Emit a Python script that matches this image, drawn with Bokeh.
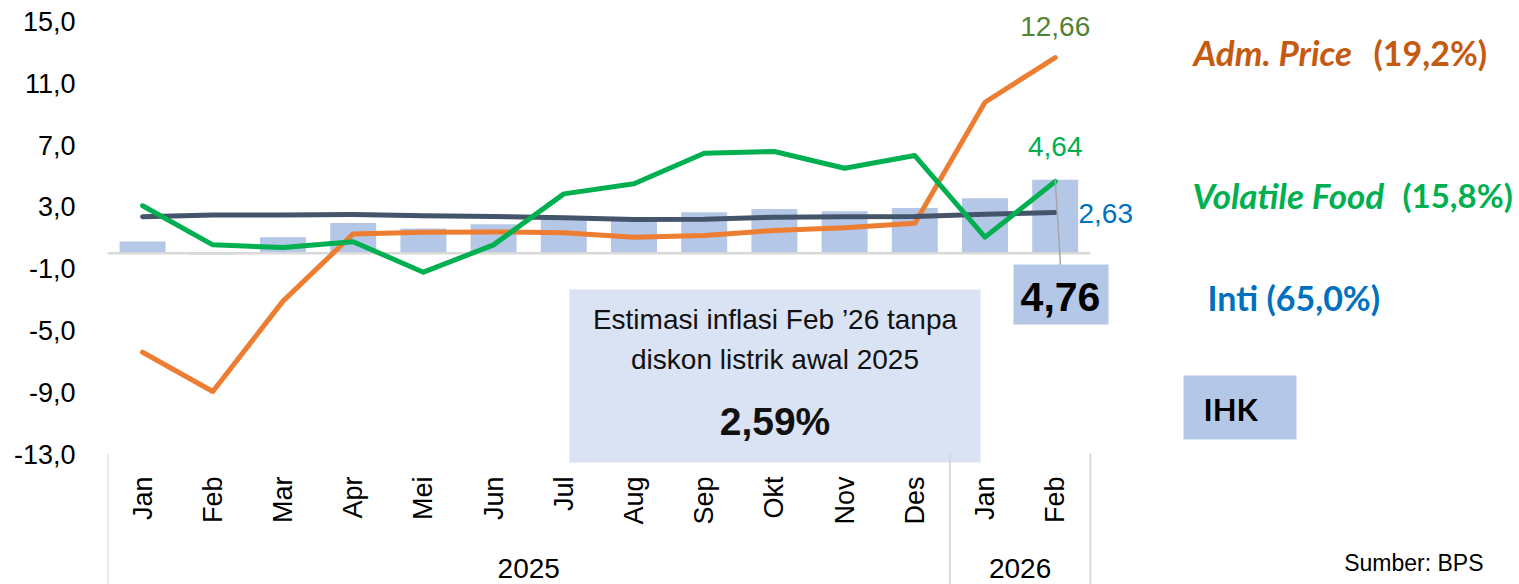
import math
from bokeh.plotting import figure
from bokeh.models import FixedTicker, Range1d
from bokeh.core.properties import value
from bokeh.embed import file_html
from bokeh.resources import INLINE

# ---------------- data ----------------
months = ["Jan", "Feb", "Mar", "Apr", "Mei", "Jun", "Jul", "Aug", "Sep", "Okt", "Nov", "Des", "Jan", "Feb"]
years = ["2025", "2026"]
year_sizes = [12, 2]
ihk = [0.76, -0.09, 1.03, 1.95, 1.60, 1.87, 2.37, 2.31, 2.65, 2.86, 2.72, 2.92, 3.55, 4.76]
inti = [2.36, 2.48, 2.48, 2.50, 2.42, 2.37, 2.30, 2.18, 2.19, 2.33, 2.36, 2.38, 2.52, 2.63]
adm = [-6.41, -8.95, -3.10, 1.25, 1.36, 1.38, 1.32, 1.04, 1.15, 1.47, 1.64, 1.94, 9.77, 12.66]
vf = [3.07, 0.54, 0.37, 0.74, -1.23, 0.54, 3.84, 4.49, 6.47, 6.58, 5.50, 6.32, 1.04, 4.64]
y_ticks = [-13, -9, -5, -1, 3, 7, 11, 15]
legend_names = ["Adm. Price", "Volatile Food", "Inti"]
legend_weights = ["(19,2%)", "(15,8%)", "(65,0%)"]
estimasi_lines = ["Estimasi inflasi Feb \u201926 tanpa", "diskon listrik awal 2025"]
estimasi_value = 2.59
source_note = "Sumber: BPS"

# ---------------- geometry helpers (page px -> data) ----------------
X0, XS = 107.0, 70.2     # page x of category 0 edge, px per category
Y0, YS = 252.7, 15.45    # page y of value 0, px per unit
W, H = 1519, 584
LEFT = 107

def dx(px):
    return (px - X0) / XS

def dy(py):
    return (Y0 - py) / YS

def fmt(v, d=2):
    return f"{v:.{d}f}".replace(".", ",")

xc = [i + 0.5 for i in range(len(months))]

SANS = "Liberation Sans"
CAL = "Lato"
BL = "alphabetic"   # anchor placed at the visual text centre line (empirically)

p = figure(width=W, height=H, output_backend="svg", toolbar_location=None,
           x_range=Range1d(0, dx(W)), y_range=Range1d(dy(H), dy(0)),
           x_axis_location=None, y_axis_location="left",
           min_border_left=LEFT, min_border_right=0, min_border_top=0, min_border_bottom=0)
p.outline_line_color = None
p.xgrid.visible = False
p.ygrid.visible = False
p.background_fill_color = "white"
p.border_fill_color = "white"

ax = p.yaxis[0]
ax.ticker = FixedTicker(ticks=y_ticks)
ax.major_label_overrides = {t: fmt(t, 1) for t in y_ticks}
ax.axis_line_color = None
ax.major_tick_line_color = None
ax.minor_tick_line_color = None
ax.major_tick_out = 0
ax.major_tick_in = 0
ax.major_label_standoff = 32
ax.major_label_text_font = SANS
ax.major_label_text_font_size = "27px"
ax.major_label_text_color = "#000000"

# bars (IHK)
p.vbar(x=xc, top=ihk, bottom=0, width=0.655, fill_color="#B4C7E7", line_color=None)
# baseline
p.segment(x0=[0], y0=[0], x1=[len(months)], y1=[0], line_color="#D9D9D9", line_width=2.5)

# lines
p.line(xc, adm, line_color="#ED7D31", line_width=5, line_cap="round", line_join="round")
p.line(xc, inti, line_color="#44546A", line_width=5, line_cap="round", line_join="round")
p.line(xc, vf, line_color="#00B050", line_width=5, line_cap="round", line_join="round")

# data labels at last point
p.text(x=[xc[-1]], y=[dy(26)], text=[fmt(adm[-1])], text_align="center", text_baseline=BL,
       text_font=value(SANS), text_font_size="28px", text_color="#548235")
p.text(x=[xc[-1]], y=[dy(146)], text=[fmt(vf[-1])], text_align="center", text_baseline=BL,
       text_font=value(SANS), text_font_size="28px", text_color="#00B050")
p.text(x=[dx(1078)], y=[dy(212.5)], text=[fmt(inti[-1])], text_align="left", text_baseline=BL,
       text_font=value(SANS), text_font_size="28px", text_color="#0070C0")

# IHK callout
p.segment(x0=[xc[-1]], y0=[ihk[-1]], x1=[dx(1060)], y1=[dy(265)], line_color="#A6A6A6", line_width=1.5)
p.quad(left=[dx(1013)], right=[dx(1108)], top=[dy(264)], bottom=[dy(324)], fill_color="#B4C7E7", line_color=None)
p.text(x=[dx(1060)], y=[dy(296)], text=[fmt(ihk[-1])], text_align="center", text_baseline=BL,
       text_font=value(SANS), text_font_style="bold", text_font_size="41px", text_color="#000000")

# estimation box
p.quad(left=[dx(569)], right=[dx(980)], top=[dy(289)], bottom=[dy(462)], fill_color="#DAE3F3", line_color=None)
p.text(x=[dx(774.5)] * 2, y=[dy(319), dy(358.5)], text=estimasi_lines, text_align="center",
       text_baseline=BL, text_font=value(SANS), text_font_size="28px", text_color="#111111")
p.text(x=[dx(774.5)], y=[dy(420.5)], text=[fmt(estimasi_value) + "%"], text_align="center",
       text_baseline=BL, text_font=value(SANS), text_font_style="bold",
       text_font_size="39px", text_color="#111111")

# legend-like labels
p.text(x=[dx(1193)], y=[dy(51.5)], text=[legend_names[0]], text_baseline=BL,
       text_font=value(CAL), text_font_style="bold italic", text_font_size="35px", text_color="#C55A11")
p.text(x=[dx(1373)], y=[dy(51.5)], text=[legend_weights[0]], text_baseline=BL,
       text_font=value(CAL), text_font_style="bold", text_font_size="34px", text_color="#C55A11")
p.text(x=[dx(1192)], y=[dy(194)], text=[legend_names[1]], text_baseline=BL,
       text_font=value(CAL), text_font_style="bold italic", text_font_size="35px", text_color="#00B050")
p.text(x=[dx(1402)], y=[dy(194)], text=[legend_weights[1]], text_baseline=BL,
       text_font=value(CAL), text_font_style="bold", text_font_size="33px", text_color="#00B050")
p.text(x=[dx(1207)], y=[dy(297)], text=[legend_names[2] + " " + legend_weights[2]], text_baseline=BL,
       text_font=value(CAL), text_font_style="bold", text_font_size="34px", text_color="#0070C0")
p.quad(left=[dx(1183)], right=[dx(1296)], top=[dy(375)], bottom=[dy(439)], fill_color="#B4C7E7", line_color=None)
p.text(x=[dx(1203)], y=[dy(408.5)], text=["IHK"], text_baseline=BL,
       text_font=value(CAL), text_font_style="bold", text_font_size="31px", text_color="#000000")

# category axis (months, years, separators)
p.text(x=xc, y=[dy(476)] * len(months), text=months, angle=math.pi / 2, text_align="right",
       text_baseline="middle", text_font=value(SANS), text_font_size="27px", text_color="#000000")
bounds = [0]
for s in year_sizes:
    bounds.append(bounds[-1] + s)
p.segment(x0=bounds, y0=[dy(453)] * len(bounds), x1=bounds, y1=[dy(H)] * len(bounds),
          line_color="#D9D9D9", line_width=2)
ymid = [(bounds[i] + bounds[i + 1]) / 2 for i in range(len(years))]
p.text(x=ymid, y=[dy(567.5)] * len(years), text=years, text_align="center", text_baseline=BL,
       text_font=value(SANS), text_font_size="28px", text_color="#000000")

p.text(x=[dx(1483)], y=[dy(562.5)], text=[source_note], text_align="right", text_baseline=BL,
       text_font=value(SANS), text_font_size="23px", text_color="#000000")

open("out.html", "w").write(file_html(p, INLINE))
